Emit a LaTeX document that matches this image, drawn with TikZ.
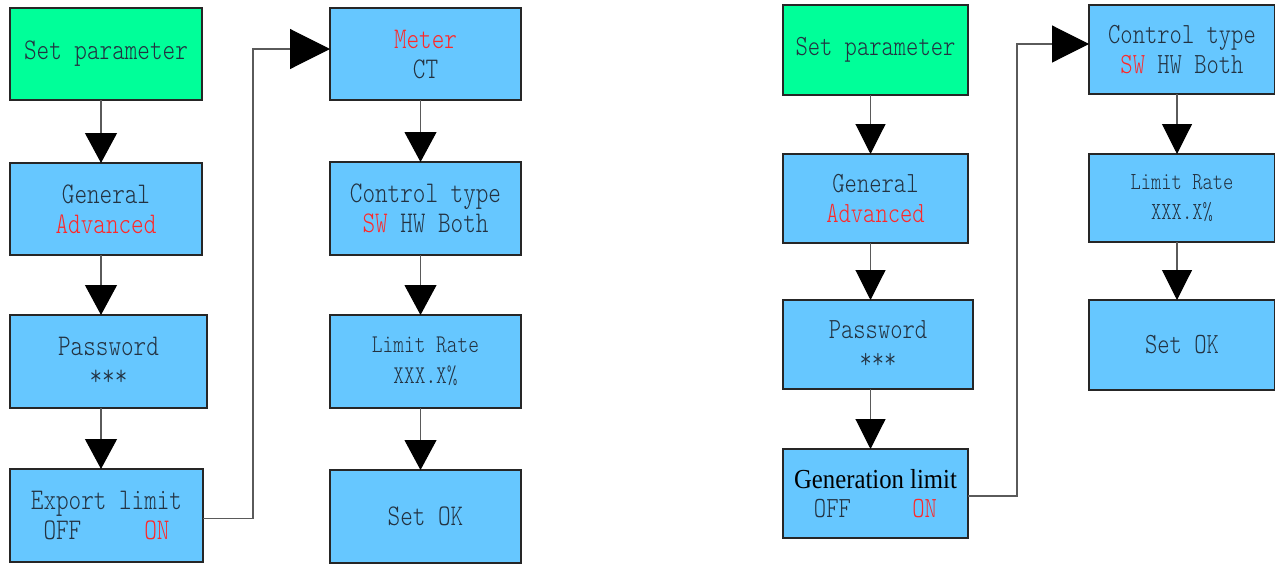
\documentclass[tikz,border=0pt]{standalone}
\usepackage{fontspec}
\usetikzlibrary{arrows.meta,calc}
\newfontfamily\simfont[FakeStretch=0.8]{Latin Modern Mono Light}
\newfontfamily\genfont[FakeStretch=0.9]{Liberation Serif}
\definecolor{boxblue}{RGB}{102,199,255}
\definecolor{boxgreen}{RGB}{0,255,153}
\definecolor{txt}{RGB}{35,50,65}
\definecolor{hot}{RGB}{255,40,40}
\definecolor{wire}{RGB}{90,90,90}
\tikzset{
  box/.style={draw=black!85, line width=1.4pt, fill=boxblue, anchor=north west,
    inner sep=0pt, outer sep=0pt, align=center, text=txt},
  bigtxt/.style={font=\simfont\fontsize{30}{30}\selectfont},
  midtxt/.style={font=\simfont\fontsize{29.3}{29.5}\selectfont},
  smalltxt/.style={font=\simfont\fontsize{25.5}{31}\selectfont},
  smalltxtr/.style={font=\simfont\fontsize{24.5}{29.5}\selectfont},
  darr/.style={draw=wire, line width=1.1pt, -{Triangle[length=30pt,width=32pt,color=black]}},
  darrr/.style={draw=wire, line width=1.1pt, -{Triangle[length=30pt,width=30pt,color=black]}},
  harr/.style={draw=wire, line width=1.1pt, -{Triangle[length=40pt,width=40pt,color=black]}},
  harrr/.style={draw=wire, line width=1.1pt, -{Triangle[length=37pt,width=37pt,color=black]}},
}
\begin{document}
\begin{tikzpicture}[x=1pt,y=-1pt]
\useasboundingbox (0,0) rectangle (1275,563);
% ---------- left figure ----------
\node[box, bigtxt, fill=boxgreen, minimum width=192pt, minimum height=92pt] (sp1) at (10,8) {Set parameter};
\node[box, bigtxt, minimum width=192pt, minimum height=92pt] (gen1) at (10,163) {General\\{\color{hot}Advanced}};
\node[box, bigtxt, minimum width=197pt, minimum height=93pt] (pw1) at (10,315) {Password\\***};
\node[box, bigtxt, minimum width=193pt, minimum height=93pt] (exp1) at (10,469) {Export limit\\OFF\phantom{00000}{\color{hot}ON}};
\node[box, bigtxt, minimum width=191pt, minimum height=92pt] (met) at (330,8) {{\color{hot}Meter}\\CT};
\node[box, bigtxt, minimum width=191pt, minimum height=93pt] (ct1) at (330,162) {Control type\\{\color{hot}SW} HW Both};
\node[box, smalltxt, minimum width=191pt, minimum height=93pt] (lr1) at (330,315) {Limit Rate\\XXX.X\%};
\node[box, bigtxt, minimum width=191pt, minimum height=93pt] (ok1) at (330,470) {Set OK};
\draw[darr] ([xshift=-5pt]sp1.south) -- ([xshift=-5pt]sp1.south |- gen1.north);
\draw[darr] ([xshift=-5pt]sp1.south |- gen1.south) -- ([xshift=-5pt]sp1.south |- pw1.north);
\draw[darr] ([xshift=-5pt]sp1.south |- pw1.south) -- ([xshift=-5pt]sp1.south |- exp1.north);
\draw[harr] ([yshift=-3pt]exp1.east) -- ++(50,0) |- ([yshift=5pt]met.west);
\draw[darr] ([xshift=-5pt]met.south) -- ([xshift=-5pt]met.south |- ct1.north);
\draw[darr] ([xshift=-5pt]met.south |- ct1.south) -- ([xshift=-5pt]met.south |- lr1.north);
\draw[darr] ([xshift=-5pt]met.south |- lr1.south) -- ([xshift=-5pt]met.south |- ok1.north);
% ---------- right figure ----------
\node[box, midtxt, fill=boxgreen, minimum width=185pt, minimum height=90pt] (sp2) at (783,5) {Set parameter};
\node[box, midtxt, minimum width=185pt, minimum height=89pt] (gen2) at (783,154) {General\\{\color{hot}Advanced}};
\node[box, midtxt, minimum width=190pt, minimum height=89pt] (pw2) at (783,300) {Password\\***};
\node[box, midtxt, minimum width=185pt, minimum height=89pt] (gl2) at (783,449) {{\genfont\fontsize{27.5}{29.5}\selectfont\color{black}Generation limit}\\OFF\phantom{00000}{\color{hot}ON}};
\node[box, midtxt, minimum width=186pt, minimum height=89pt] (ct2) at (1089,5) {Control type\\{\color{hot}SW} HW Both};
\node[box, smalltxtr, minimum width=186pt, minimum height=88pt] (lr2) at (1089,154) {Limit Rate\\XXX.X\%};
\node[box, midtxt, minimum width=186pt, minimum height=90pt] (ok2) at (1089,300) {Set OK};
\draw[darrr] ([xshift=-5pt]sp2.south) -- ([xshift=-5pt]sp2.south |- gen2.north);
\draw[darrr] ([xshift=-5pt]sp2.south |- gen2.south) -- ([xshift=-5pt]sp2.south |- pw2.north);
\draw[darrr] ([xshift=-5pt]sp2.south |- pw2.south) -- ([xshift=-5pt]sp2.south |- gl2.north);
\draw[harrr] ([yshift=-2.5pt]gl2.east) -- ++(49,0) |- ([yshift=5.5pt]ct2.west);
\draw[darrr] ([xshift=-5pt]ct2.south) -- ([xshift=-5pt]ct2.south |- lr2.north);
\draw[darrr] ([xshift=-5pt]ct2.south |- lr2.south) -- ([xshift=-5pt]ct2.south |- ok2.north);
\end{tikzpicture}
\end{document}
